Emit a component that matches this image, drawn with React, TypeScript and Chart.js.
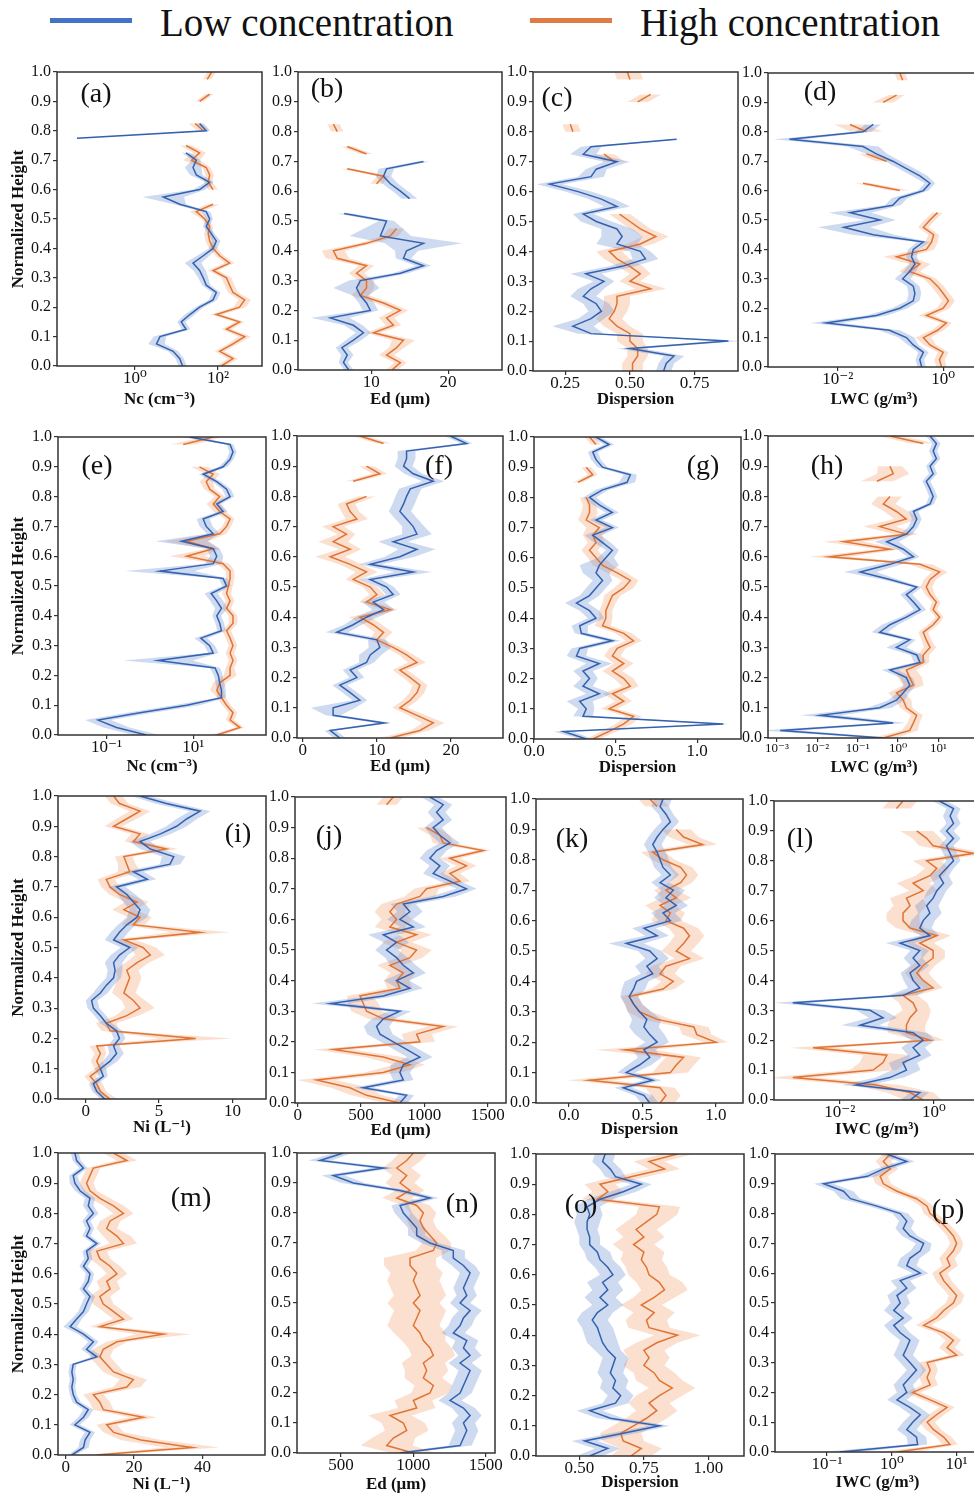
import React, { useEffect, useRef } from 'react';
import { Chart, registerables } from 'chart.js';

Chart.register(...registerables);

// ---------- shared axis data ----------
const HEIGHTS = [0, 0.025, 0.05, 0.075, 0.1, 0.125, 0.15, 0.175, 0.2, 0.225, 0.25, 0.275, 0.3, 0.325, 0.35, 0.375, 0.4, 0.425, 0.45, 0.475, 0.5, 0.525, 0.55, 0.575, 0.6, 0.625, 0.65, 0.675, 0.7, 0.725, 0.75, 0.775, 0.8, 0.825, 0.85, 0.875, 0.9, 0.925, 0.95, 0.975, 1.0];
const Y_TICKS = [0, 0.1, 0.2, 0.3, 0.4, 0.5, 0.6, 0.7, 0.8, 0.9, 1.0];

// ---------- (a) Nc, liquid, log ----------
const aLow = [14, 12, 8.3, 3.3, 4, 17, 13, 21, 36, 76, 91, 52, 44, 36, 25, 44, 76, 91, 69, 52, 63, 52, 12, 4.8, 36, 63, 30, 25, 30, 17, null, 0.04, 52, 36, null, null, null, null, null, null, null];
const aLowSd = [0.1, 0.1, 0.12, 0.2, 0.15, 0.1, 0.1, 0.12, 0.1, 0.1, 0.1, 0.1, 0.12, 0.15, 0.2, 0.15, 0.1, 0.1, 0.08, 0.08, 0.08, 0.1, 0.15, 0.5, 0.15, 0.1, 0.15, 0.2, 0.1, 0.1, 0, 0.05, 0.1, 0.1, 0, 0, 0, 0, 0, 0, 0];
const aHigh = [120, 230, 110, 230, 440, 160, 330, 91, 330, 440, 230, 190, 160, 76, 190, 110, 76, 63, 58, 63, 48, 30, 76, null, 76, 58, 63, 52, 23, 36, 17, null, 44, 28, null, null, 36, 63, null, 55, 70];
const aHighSd = [0.12, 0.12, 0.12, 0.12, 0.15, 0.12, 0.12, 0.15, 0.15, 0.15, 0.12, 0.12, 0.12, 0.12, 0.12, 0.1, 0.1, 0.1, 0.1, 0.08, 0.08, 0.15, 0.15, 0, 0.12, 0.1, 0.1, 0.1, 0.2, 0.15, 0.15, 0, 0.15, 0.15, 0, 0, 0.1, 0.1, 0, 0.1, 0.1];

// ---------- (b) Ed, liquid ----------
const bLow = [7.1, 6.4, 6.9, 6.2, 7.7, 9.0, 7.7, 4.7, 9.9, 9.4, 8.6, 8.1, 8.6, 13.8, 16.8, 14.2, 14.6, 16.8, 11.2, 11.6, 12.0, 6.5, null, 15, 13.8, 12.5, 11.6, 12.0, 16.8, null, null, null, null, null, null, null, null, null, null, null, null];
const bLowSd = [0.6, 0.6, 0.8, 0.8, 1, 1, 1.2, 2.5, 1, 1, 1, 3, 1.5, 1, 1, 1, 1.5, 5, 4, 2.5, 1, 1, 0, 1, 1, 1, 1, 1, 0.8, 0, 0, 0, 0, 0, 0, 0, 0, 0, 0, 0, 0];
const bHigh = [12.7, 13.8, 12.0, 13.3, 14.2, 10.3, 12.9, 12.0, 13.8, 11.6, 8.6, 9.4, 9.4, 8.1, 9.4, 5.6, 5.1, 9.4, 12.5, 13.3, null, null, null, null, null, 10.7, 11.6, 6.9, null, 9.4, 6.9, null, 5.6, 5.1, null, null, null, null, null, null, null];
const bHighSd = [0.8, 0.8, 1, 1, 1.5, 1, 1, 1, 1, 1, 1.2, 1, 1, 1, 1, 1.5, 1.5, 1, 1, 1, 0, 0, 0, 0, 0, 0.8, 0.8, 0.8, 0, 0.8, 0.8, 0, 0.8, 0.8, 0, 0, 0, 0, 0, 0, 0];

// ---------- (c) Dispersion, liquid ----------
const cLow = [0.63, 0.64, 0.67, 0.5, 0.88, 0.35, 0.28, 0.35, 0.39, 0.37, 0.32, 0.35, 0.40, 0.33, 0.47, 0.56, 0.54, 0.45, 0.47, 0.45, 0.37, 0.32, 0.45, 0.39, 0.30, 0.19, 0.35, 0.37, 0.45, 0.32, 0.35, 0.68, null, null, null, null, null, null, null, null, null];
const cLowSd = [0.03, 0.03, 0.04, 0.05, 0.05, 0.05, 0.08, 0.05, 0.05, 0.05, 0.05, 0.05, 0.04, 0.06, 0.05, 0.05, 0.04, 0.08, 0.08, 0.06, 0.06, 0.04, 0.05, 0.05, 0.05, 0.05, 0.05, 0.04, 0.05, 0.05, 0.04, 0.02, 0, 0, 0, 0, 0, 0, 0, 0, 0];
const cHigh = [0.51, 0.51, 0.53, 0.53, 0.5, 0.5, 0.45, 0.42, 0.44, 0.45, 0.45, 0.58, 0.5, 0.54, 0.5, 0.45, 0.42, 0.54, 0.6, 0.54, 0.5, 0.46, null, null, null, null, null, null, 0.44, 0.4, null, null, 0.28, 0.27, null, null, 0.53, 0.58, null, 0.5, 0.49];
const cHighSd = [0.04, 0.04, 0.04, 0.04, 0.05, 0.05, 0.05, 0.05, 0.05, 0.05, 0.05, 0.06, 0.04, 0.04, 0.05, 0.05, 0.05, 0.05, 0.05, 0.04, 0.04, 0.04, 0, 0, 0, 0, 0, 0, 0.04, 0.04, 0, 0, 0.03, 0.03, 0, 0, 0.04, 0.04, 0, 0.05, 0.05];

// ---------- (d) LWC, log ----------
const dLow = [0.39, 0.36, 0.42, 0.27, 0.2, 0.095, 0.006, 0.054, 0.15, 0.27, 0.29, 0.27, 0.17, 0.23, 0.29, 0.25, 0.27, 0.42, 0.047, 0.013, 0.063, 0.017, 0.11, 0.15, 0.42, 0.56, 0.36, 0.2, 0.11, 0.054, 0.03, 0.0012, 0.03, 0.047, null, null, null, null, null, null, null];
const dLowSd = [0.08, 0.08, 0.1, 0.1, 0.15, 0.2, 0.3, 0.2, 0.15, 0.12, 0.12, 0.12, 0.15, 0.12, 0.1, 0.1, 0.1, 0.12, 0.4, 0.5, 0.3, 0.4, 0.15, 0.15, 0.1, 0.1, 0.15, 0.15, 0.15, 0.2, 0.3, 0.3, 0.15, 0.15, 0, 0, 0, 0, 0, 0, 0];
const dHigh = [0.93, 0.85, 1.0, 0.56, 0.42, 0.78, 1.15, 0.48, 1.0, 1.26, 1.0, 0.78, 0.56, 0.23, 0.36, 0.13, 0.48, 0.6, 0.66, 0.42, 0.56, 0.78, null, null, 0.15, 0.03, null, null, 0.083, 0.035, null, null, 0.035, 0.017, null, null, 0.072, 0.13, null, 0.17, 0.15];
const dHighSd = [0.1, 0.1, 0.1, 0.12, 0.15, 0.12, 0.1, 0.15, 0.12, 0.12, 0.12, 0.12, 0.12, 0.2, 0.2, 0.25, 0.15, 0.12, 0.1, 0.1, 0.1, 0.1, 0, 0, 0.2, 0.15, 0, 0, 0.2, 0.15, 0, 0, 0.3, 0.3, 0, 0, 0.2, 0.15, 0, 0.1, 0.1];

// ---------- (e) Nc, mixed, log ----------
const eLow = [0.83, 0.17, 0.064, 0.59, 7.1, 45, 45, 41, 38, 32, 1.55, 29, 24, 15, 45, 41, 35, 45, 35, 26, 59, 49, 1.7, 29, 35, 29, 5.4, 29, 20, 17, 49, 35, 71, 59, 35, 17, 49, 71, 83, 71, 8.3];
const eLowSd = [0.3, 0.3, 0.3, 0.3, 0.3, 0.1, 0.1, 0.1, 0.1, 0.12, 0.8, 0.12, 0.12, 0.15, 0.1, 0.1, 0.1, 0.15, 0.15, 0.15, 0.1, 0.1, 0.8, 0.2, 0.15, 0.15, 0.6, 0.15, 0.15, 0.15, 0.1, 0.1, 0.1, 0.1, 0.1, 0.1, 0.1, 0.08, 0.08, 0.08, 0.2];
const eHigh = [35, 120, 71, 83, 59, 45, 35, 41, 71, 71, 83, 71, 83, 71, 59, 83, 83, 59, 71, 59, 65, 71, 71, 49, 7.1, 29, 7.1, 41, 59, 71, 41, 29, 41, 24, 20, 29, 14, null, null, 5.9, 29];
const eHighSd = [0.15, 0.1, 0.1, 0.1, 0.1, 0.1, 0.15, 0.15, 0.15, 0.1, 0.1, 0.1, 0.1, 0.1, 0.1, 0.1, 0.1, 0.1, 0.1, 0.1, 0.1, 0.1, 0.1, 0.15, 0.4, 0.15, 0.5, 0.15, 0.1, 0.1, 0.15, 0.15, 0.12, 0.12, 0.15, 0.15, 0.2, 0, 0, 0.3, 0.2];

// ---------- (f) Ed, mixed ----------
const fLow = [5.0, 3.7, 11, 4.1, 4.1, 7.7, 6.4, 5.0, 7.3, 6.4, 8.6, 9.1, 10.4, 10.0, 4.6, 6.8, 8.6, 10.9, 9.5, 12.2, 11.3, 9.1, 14.9, 9.1, 13.1, 15.4, 12.2, 15.4, 14.9, 14.0, 13.1, 13.6, 14.0, 14.5, 17.6, 14.9, 13.6, 14.0, 14.0, 22.1, 19.9];
const fLowSd = [0.8, 0.8, 1, 1, 3, 1, 1, 1, 1, 1, 1, 1.5, 1.5, 1.2, 1.5, 1.2, 1.5, 1.5, 1.5, 1, 1, 1.5, 2.5, 1.5, 2, 2.5, 2, 2, 1.5, 1.5, 1.5, 1.5, 1.5, 1.5, 1.5, 1.2, 1.2, 1.2, 1.2, 0.8, 0.8];
const fHigh = [11.8, 15.8, 17.6, 15.4, 13.1, 14.5, 15.4, 15.8, 14.5, 13.1, 15.4, 14.0, 12.2, 10.0, 10.9, 9.5, 7.7, 11.8, 8.6, 10.0, 9.1, 6.8, 8.6, 6.4, 3.7, 6.4, 4.1, 5.9, 4.1, 7.3, 6.4, 5.9, 8.6, null, 6.8, 10.4, 8.6, null, null, 10.9, 7.7];
const fHighSd = [1.5, 1.2, 1.5, 1.2, 1, 1, 1, 1, 1, 1, 1.2, 1, 1, 1, 1.2, 1.2, 1.5, 1, 1, 1, 1, 1, 1.5, 1.5, 2, 1.5, 2, 1.2, 1.5, 1.5, 1.2, 1.2, 1.2, 0, 1, 1, 1, 0, 0, 1, 1];

// ---------- (g) Dispersion, mixed ----------
const gLow = [0.32, 0.18, 1.16, 0.30, 0.32, 0.28, 0.40, 0.30, 0.34, 0.30, 0.40, 0.26, 0.28, 0.48, 0.29, 0.28, 0.38, 0.34, 0.26, 0.34, 0.38, 0.42, 0.38, 0.40, 0.44, 0.48, 0.42, 0.36, 0.48, 0.38, 0.48, 0.40, 0.34, 0.42, 0.57, 0.59, 0.42, 0.38, 0.36, 0.46, 0.38];
const gLowSd = [0.04, 0.06, 0.04, 0.06, 0.05, 0.08, 0.08, 0.06, 0.05, 0.06, 0.08, 0.06, 0.05, 0.05, 0.04, 0.05, 0.05, 0.06, 0.07, 0.06, 0.06, 0.06, 0.08, 0.12, 0.05, 0.04, 0.05, 0.05, 0.04, 0.04, 0.04, 0.04, 0.04, 0.04, 0.05, 0.04, 0.03, 0.03, 0.03, 0.03, 0.03];
const gHigh = [0.36, 0.46, 0.55, 0.61, 0.46, 0.55, 0.48, 0.59, 0.55, 0.48, 0.55, 0.48, 0.51, 0.61, 0.55, 0.42, 0.44, 0.44, 0.46, 0.48, 0.55, 0.59, 0.51, 0.42, 0.38, 0.34, 0.38, 0.36, 0.40, 0.32, 0.34, 0.34, 0.32, null, 0.27, 0.36, 0.32, null, null, 0.38, 0.34];
const gHighSd = [0.04, 0.05, 0.05, 0.05, 0.05, 0.05, 0.06, 0.05, 0.06, 0.06, 0.06, 0.05, 0.05, 0.05, 0.05, 0.05, 0.04, 0.04, 0.04, 0.05, 0.06, 0.05, 0.06, 0.06, 0.05, 0.05, 0.05, 0.06, 0.08, 0.05, 0.05, 0.04, 0.04, 0, 0.03, 0.03, 0.03, 0, 0, 0.03, 0.03];

// ---------- (h) LWC, mixed, log ----------
const hLow = [0.43, 0.0012, 0.76, 0.012, 0.35, 0.91, 1.35, 1.95, 1.6, 0.63, 3.5, 2.9, 0.91, 1.95, 0.35, 0.63, 1.6, 3.5, 2.4, 1.6, 2.9, 0.63, 0.115, 0.63, 2.4, 1.35, 0.52, 1.6, 2.4, 2.9, 2.4, 6.2, 7.4, 6.2, 5.0, 7.4, 6.2, 8.9, 7.4, 8.9, 6.2];
const hLowSd = [0.3, 0.5, 0.3, 0.5, 0.3, 0.2, 0.15, 0.15, 0.15, 0.2, 0.15, 0.15, 0.25, 0.15, 0.2, 0.2, 0.15, 0.15, 0.15, 0.15, 0.12, 0.2, 0.4, 0.3, 0.15, 0.15, 0.3, 0.15, 0.12, 0.12, 0.12, 0.1, 0.1, 0.1, 0.1, 0.1, 0.1, 0.1, 0.1, 0.1, 0.1];
const hHigh = [0.43, 1.95, 2.4, 2.9, 1.6, 1.35, 0.91, 2.4, 1.95, 1.6, 4.2, 4.2, 6.2, 5.0, 4.2, 7.4, 10.7, 7.4, 8.9, 6.2, 5.0, 6.2, 10.7, 3.5, 0.02, 0.63, 0.045, 1.6, 0.35, 1.6, 0.91, 0.43, 0.63, null, 0.3, 0.76, 0.63, null, null, 4.2, 0.63];
const hHighSd = [0.3, 0.2, 0.15, 0.15, 0.15, 0.2, 0.2, 0.25, 0.3, 0.25, 0.15, 0.15, 0.15, 0.12, 0.12, 0.12, 0.1, 0.1, 0.1, 0.12, 0.15, 0.15, 0.2, 0.3, 0.5, 0.3, 0.5, 0.3, 0.4, 0.3, 0.3, 0.3, 0.3, 0, 0.4, 0.4, 0.3, 0, 0, 0.3, 0.3];

// ---------- (i) Ni, mixed ----------
const iLow = [1.3, 0.75, 0.52, 1.2, 1.0, 1.66, 2.1, 1.9, 2.3, 2.1, 1.4, 1.0, 0.52, 0.4, 1.0, 1.4, 1.9, 2.0, 1.9, 2.3, 3.0, 1.9, 2.3, 2.8, 3.5, 3.7, 3.25, 2.8, 2.1, 4.2, 3.25, 5.75, 6.0, 4.4, 3.7, 5.1, 6.2, 6.9, 7.8, 5.5, 3.7];
const iLowSd = [0.3, 0.3, 0.3, 0.3, 0.4, 0.5, 0.5, 0.4, 0.4, 0.4, 0.4, 0.4, 0.4, 0.4, 0.5, 0.5, 0.5, 0.5, 0.6, 0.6, 0.6, 0.6, 0.6, 0.6, 0.7, 0.7, 0.7, 0.6, 0.6, 0.6, 0.7, 0.7, 0.8, 0.7, 0.7, 0.7, 0.7, 0.7, 0.7, 0.8, 0.6];
const iHigh = [1.66, 1.0, 0.75, 0.3, 1.0, 0.75, 1.0, 0.75, 7.5, 1.66, 1.4, 2.8, 3.7, 3.25, 2.6, 2.8, 3.0, 2.8, 3.5, 4.4, 3.9, 2.6, 7.8, 3.25, 3.7, 2.6, 3.5, 2.3, 1.66, 1.4, 3.0, 2.8, 2.6, 5.5, 3.25, 3.7, 1.9, 2.8, 3.7, 2.3, 1.9];
const iHighSd = [0.5, 0.4, 0.4, 0.4, 0.4, 0.4, 0.4, 0.5, 2.5, 0.6, 0.7, 0.8, 1.0, 0.8, 0.8, 0.8, 0.8, 0.8, 0.8, 1.0, 0.9, 0.8, 2.0, 0.8, 0.8, 0.8, 0.8, 0.7, 0.6, 0.6, 0.8, 0.6, 0.6, 0.8, 0.6, 0.6, 0.6, 0.7, 0.7, 0.6, 0.6];

// ---------- (j) Ed, ice ----------
const jLow = [807, 860, 518, 834, 807, 834, 965, 860, 755, 650, 623, 676, 807, 260, 676, 886, 781, 913, 834, 781, 702, 781, 676, 913, 807, 886, 834, 1149, 1333, 1202, 1070, 1123, 1044, 1097, 1202, 1123, 1070, 1149, 1097, 1149, 1044];
const jLowSd = [60, 60, 80, 80, 80, 100, 100, 100, 100, 100, 100, 90, 90, 150, 100, 100, 100, 100, 100, 90, 90, 100, 120, 100, 100, 100, 100, 100, 80, 80, 80, 80, 80, 80, 80, 70, 70, 70, 70, 70, 70];
const jHigh = [807, 544, 413, 150, 676, 886, 676, 281, 965, 939, 1149, 676, 544, 518, 492, 807, 781, 834, 728, 886, 939, 781, 939, 728, 781, 728, 781, 965, 1018, 1281, 1202, 1333, 1202, 1465, 1149, 1123, 1018, null, null, 702, 755];
const jHighSd = [120, 120, 150, 150, 150, 120, 150, 150, 120, 120, 120, 120, 120, 120, 100, 100, 100, 100, 100, 100, 120, 120, 120, 120, 120, 120, 120, 120, 100, 80, 80, 80, 80, 60, 80, 80, 80, 0, 0, 80, 80];

// ---------- (k) Dispersion, ice ----------
const kLow = [0.55, 0.51, 0.37, 0.57, 0.39, 0.48, 0.55, 0.51, 0.6, 0.55, 0.51, 0.53, 0.48, 0.44, 0.41, 0.44, 0.46, 0.57, 0.53, 0.6, 0.55, 0.39, 0.6, 0.51, 0.69, 0.64, 0.73, 0.66, 0.71, 0.62, 0.69, 0.64, 0.62, 0.6, 0.57, 0.6, 0.64, 0.69, 0.66, 0.62, 0.64];
const kLowSd = [0.06, 0.06, 0.06, 0.06, 0.06, 0.08, 0.08, 0.08, 0.08, 0.1, 0.1, 0.1, 0.08, 0.06, 0.06, 0.08, 0.08, 0.08, 0.08, 0.08, 0.08, 0.12, 0.08, 0.08, 0.08, 0.08, 0.08, 0.08, 0.08, 0.06, 0.06, 0.06, 0.06, 0.06, 0.06, 0.06, 0.06, 0.06, 0.05, 0.06, 0.06];
const kHigh = [0.62, 0.66, 0.62, 0.14, 0.69, 0.73, 0.78, 0.38, 1.0, 0.87, 0.85, 0.6, 0.48, 0.44, 0.41, 0.64, 0.71, 0.62, 0.66, 0.82, 0.73, 0.78, 0.82, 0.78, 0.66, 0.69, 0.62, 0.73, 0.66, 0.76, 0.8, 0.76, 0.64, 0.57, 0.91, 0.78, 0.73, null, null, 0.6, 0.55];
const kHighSd = [0.1, 0.1, 0.1, 0.15, 0.12, 0.12, 0.12, 0.2, 0.08, 0.1, 0.1, 0.1, 0.08, 0.06, 0.06, 0.08, 0.08, 0.1, 0.1, 0.1, 0.1, 0.1, 0.1, 0.1, 0.1, 0.1, 0.1, 0.1, 0.08, 0.08, 0.08, 0.08, 0.08, 0.08, 0.1, 0.1, 0.1, 0, 0, 0.08, 0.08];

// ---------- (l) IWC, log ----------
const lLow = [0.31, 0.5, 0.022, 0.115, 0.26, 0.22, 0.5, 0.36, 0.59, 0.36, 0.027, 0.083, 0.044, 0.001, 0.22, 0.5, 0.36, 0.31, 0.5, 0.36, 0.5, 0.19, 0.82, 0.5, 0.59, 0.82, 0.7, 0.96, 1.15, 1.6, 1.3, 1.85, 2.6, 2.2, 1.85, 2.6, 1.85, 2.6, 2.2, 2.6, 1.3];
const lLowSd = [0.2, 0.2, 0.3, 0.3, 0.3, 0.3, 0.25, 0.25, 0.25, 0.3, 0.4, 0.3, 0.3, 0.4, 0.3, 0.25, 0.2, 0.2, 0.2, 0.2, 0.2, 0.3, 0.2, 0.25, 0.25, 0.25, 0.25, 0.2, 0.2, 0.2, 0.2, 0.15, 0.15, 0.15, 0.15, 0.15, 0.15, 0.15, 0.15, 0.15, 0.15];
const lHigh = [0.59, 0.31, 0.06, 0.001, 0.051, 0.083, 0.1, 0.0027, 0.82, 0.26, 0.26, 0.31, 0.43, 0.36, 0.22, 0.96, 0.59, 0.43, 0.59, 0.96, 0.96, 0.5, 1.15, 0.31, 0.22, 0.22, 0.31, 0.26, 0.59, 0.36, 0.82, 1.15, 0.7, 6.9, 0.96, 0.7, 0.43, null, null, 0.16, 0.22];
const lHighSd = [0.4, 0.5, 0.5, 0.5, 0.5, 0.5, 0.5, 0.5, 0.3, 0.4, 0.4, 0.4, 0.3, 0.3, 0.3, 0.2, 0.25, 0.25, 0.25, 0.25, 0.25, 0.3, 0.3, 0.3, 0.35, 0.35, 0.35, 0.35, 0.3, 0.35, 0.3, 0.25, 0.3, 0.3, 0.3, 0.3, 0.35, 0, 0, 0.3, 0.3];

// ---------- (m) Ni, ice ----------
const mLow = [1.8, 5.2, 5.7, 7.1, 2.7, 5.2, 6.6, 3.2, 2.2, 1.8, 2.2, 1.8, 2.2, 9.1, 6.1, 8.1, 5.2, 1.3, 3.2, 5.2, 6.1, 7.1, 5.2, 6.6, 7.1, 5.2, 6.6, 6.1, 9.1, 6.1, 7.1, 6.1, 8.1, 6.6, 7.1, 4.2, 2.7, 2.2, 5.2, 3.2, 2.7];
const mLowSd = [1, 1.5, 1.5, 1.5, 1.5, 1.5, 1.5, 1.2, 1, 1, 1, 1, 1, 1.5, 1.5, 1.5, 1.5, 2, 1.5, 1.5, 1.5, 1.5, 1.2, 1.2, 1.2, 1.2, 1.2, 1.2, 1.2, 1.2, 1.2, 1.2, 1.5, 1.5, 1.5, 1.5, 1.5, 1.2, 1.2, 1.2, 1.2];
const mHigh = [9, 37, 22, 14, 12, 22.7, 11, 10, 8.1, 17.9, 19.8, 14, 12, 10, 11, 15, 28.6, 10, 16.9, 14, 11, 10, 13, 12, 15, 13, 10, 9.1, 16.9, 15, 12, 13, 16.9, 14, 10, 7.1, 6.1, 7.1, 8.1, 17.9, 14];
const mHighSd = [3, 8, 6, 3, 3, 4, 3, 3, 3, 4, 4, 3, 3, 3, 3, 3, 8, 3, 3, 3, 3, 3, 3, 3, 3, 3, 3, 3, 4, 4, 3, 3, 3, 3, 3, 2, 2, 2, 2, 3, 3];

// ---------- (n) Ed, ice ----------
const nLow = [908, 1323, 1346, 1369, 1346, 1392, 1346, 1253, 1323, 1346, 1369, 1392, 1323, 1392, 1346, 1369, 1276, 1323, 1346, 1392, 1323, 1369, 1346, 1369, 1392, 1346, 1276, 1276, 1115, 1023, 1023, 977, 931, 908, 1115, 908, 585, 447, 793, 355, 516];
const nLowSd = [60, 80, 80, 80, 80, 80, 80, 80, 80, 80, 80, 80, 80, 80, 80, 80, 80, 80, 80, 80, 70, 70, 70, 70, 70, 80, 80, 80, 60, 60, 60, 60, 60, 60, 60, 60, 80, 80, 80, 80, 60];
const nHigh = [1000, 816, 862, 954, 931, 839, 1023, 1000, 1115, 1138, 1069, 1092, 1069, 1138, 1115, 1069, 1046, 1000, 1023, 1046, 1000, 1046, 1023, 1000, 1023, 977, 977, 1138, 1161, 1115, 1069, 1046, 1069, 1023, 885, 977, 908, 954, 885, 954, 1000];
const nHighSd = [150, 180, 150, 150, 150, 150, 130, 130, 130, 130, 130, 150, 150, 150, 150, 150, 180, 180, 180, 180, 180, 180, 180, 180, 180, 180, 180, 120, 100, 100, 90, 90, 90, 90, 100, 100, 100, 100, 100, 100, 100];

// ---------- (o) Dispersion, ice ----------
const oLow = [0.54, 0.61, 0.52, 0.67, 0.81, 0.62, 0.54, 0.64, 0.66, 0.63, 0.64, 0.62, 0.63, 0.64, 0.61, 0.59, 0.58, 0.57, 0.55, 0.57, 0.61, 0.58, 0.61, 0.59, 0.63, 0.61, 0.58, 0.57, 0.54, 0.54, 0.53, 0.53, 0.54, 0.53, 0.58, 0.67, 0.74, 0.64, 0.62, 0.59, 0.6];
const oLowSd = [0.05, 0.05, 0.05, 0.05, 0.04, 0.05, 0.05, 0.05, 0.05, 0.05, 0.05, 0.05, 0.05, 0.05, 0.05, 0.06, 0.06, 0.06, 0.06, 0.06, 0.06, 0.06, 0.06, 0.06, 0.05, 0.05, 0.05, 0.05, 0.04, 0.04, 0.04, 0.05, 0.05, 0.05, 0.05, 0.05, 0.04, 0.04, 0.04, 0.04, 0.04];
const oHigh = [0.7, 0.74, 0.67, 0.66, 0.71, 0.76, 0.8, 0.77, 0.81, 0.86, 0.81, 0.79, 0.75, 0.77, 0.75, 0.8, 0.88, 0.77, 0.76, 0.79, 0.74, 0.79, 0.83, 0.81, 0.77, 0.76, 0.74, 0.75, 0.71, 0.75, 0.72, 0.76, 0.8, 0.81, 0.57, 0.61, 0.58, 0.7, 0.83, 0.77, 0.88];
const oHighSd = [0.08, 0.08, 0.08, 0.08, 0.08, 0.08, 0.08, 0.08, 0.09, 0.09, 0.09, 0.08, 0.08, 0.08, 0.08, 0.08, 0.09, 0.08, 0.08, 0.08, 0.08, 0.08, 0.09, 0.09, 0.08, 0.08, 0.08, 0.08, 0.08, 0.08, 0.08, 0.08, 0.08, 0.08, 0.06, 0.06, 0.06, 0.06, 0.06, 0.06, 0.06];

// ---------- (p) IWC, log ----------
const pLow = [0.16, 2.5, 2.4, 1.7, 2.1, 2.75, 1.9, 1.2, 1.7, 1.5, 1.9, 2.4, 1.9, 1.5, 1.7, 1.9, 1.35, 1.07, 1.5, 1.07, 1.35, 1.2, 1.7, 1.35, 2.75, 1.7, 1.9, 2.75, 3.1, 1.9, 1.5, 1.7, 1.35, 0.59, 0.23, 0.18, 0.089, 0.42, 0.74, 1.7, 0.83];
const pLowSd = [0.3, 0.15, 0.15, 0.15, 0.15, 0.15, 0.15, 0.15, 0.15, 0.15, 0.15, 0.15, 0.15, 0.15, 0.15, 0.15, 0.15, 0.15, 0.15, 0.15, 0.15, 0.15, 0.15, 0.15, 0.12, 0.15, 0.15, 0.15, 0.12, 0.12, 0.12, 0.12, 0.12, 0.12, 0.15, 0.15, 0.15, 0.15, 0.12, 0.12, 0.12];
const pHigh = [1.2, 7.9, 6.3, 4.4, 3.5, 4.9, 7.1, 3.9, 2.1, 3.9, 3.5, 3.9, 3.5, 10, 7.1, 8.9, 6.3, 3.1, 4.9, 6.3, 8.9, 10, 7.9, 6.3, 5.5, 7.9, 7.1, 8.9, 10, 8.9, 7.1, 5.5, 3.9, 3.5, 2.4, 1.2, 0.74, 0.66, 0.95, 0.74, 0.95];
const pHighSd = [0.3, 0.12, 0.12, 0.12, 0.12, 0.12, 0.12, 0.12, 0.12, 0.12, 0.12, 0.12, 0.12, 0.12, 0.12, 0.12, 0.12, 0.12, 0.12, 0.12, 0.12, 0.12, 0.12, 0.12, 0.12, 0.12, 0.12, 0.12, 0.1, 0.1, 0.1, 0.1, 0.1, 0.1, 0.12, 0.12, 0.12, 0.12, 0.12, 0.12, 0.12];

// ---------- styling ----------
const FONT = "'Liberation Serif', 'Times New Roman', 'DejaVu Serif', serif";
const TEXT = '#111';
const LINE_LOW = 'rgb(52,98,176)';
const LINE_HIGH = 'rgb(224,116,52)';
const BAND_LOW = 'rgba(92,132,205,0.30)';
const BAND_HIGH = 'rgba(242,152,100,0.30)';
const PT = 14;
const PR = 14;
const XH = 45;

type Panel = {
  letter: string;
  box: [number, number, number, number];
  log: boolean;
  min: number;
  max: number;
  ticks: number[];
  dec: number;
  title: string;
  low: (number | null)[];
  lowSd: number[];
  high: (number | null)[];
  highSd: number[];
  lab: [number, number];
  tOff: number;
  first: boolean;
  tickSize?: number;
};

const PANELS: Panel[] = [
  { letter: '(a)', box: [57, 262, 72, 366], log: true, min: 0.0132, max: 1148, ticks: [1, 100], dec: 0, title: 'Nc (cm⁻³)', low: aLow, lowSd: aLowSd, high: aHigh, highSd: aHighSd, lab: [39, 23], tOff: 34, first: true },
  { letter: '(b)', box: [298, 502, 72, 370], log: false, min: 0.5, max: 27, ticks: [10, 20], dec: 0, title: 'Ed (μm)', low: bLow, lowSd: bLowSd, high: bHigh, highSd: bHighSd, lab: [29, 18], tOff: 30, first: false },
  { letter: '(c)', box: [533, 738, 72, 371], log: false, min: 0.126, max: 0.917, ticks: [0.25, 0.5, 0.75], dec: 2, title: 'Dispersion', low: cLow, lowSd: cLowSd, high: cHigh, highSd: cHighSd, lab: [24, 27], tOff: 29, first: false },
  { letter: '(d)', box: [768, 980, 73, 367], log: true, min: 0.00047, max: 5.0, ticks: [0.01, 1], dec: 0, title: 'LWC (g/m³)', low: dLow, lowSd: dLowSd, high: dHigh, highSd: dHighSd, lab: [52, 20], tOff: 33, first: false },
  { letter: '(e)', box: [58, 266, 437, 735], log: true, min: 0.0076, max: 479, ticks: [0.1, 10], dec: 0, title: 'Nc (cm⁻³)', low: eLow, lowSd: eLowSd, high: eHigh, highSd: eHighSd, lab: [39, 30], tOff: 32, first: true },
  { letter: '(f)', box: [297, 503, 436, 738], log: false, min: -0.77, max: 27, ticks: [0, 10, 20], dec: 0, title: 'Ed (μm)', low: fLow, lowSd: fLowSd, high: fHigh, highSd: fHighSd, lab: [142, 31], tOff: 29, first: false },
  { letter: '(g)', box: [534, 741, 437, 739], log: false, min: 0, max: 1.268, ticks: [0, 0.5, 1.0], dec: 1, title: 'Dispersion', low: gLow, lowSd: gLowSd, high: gHigh, highSd: gHighSd, lab: [169, 30], tOff: 29, first: false },
  { letter: '(h)', box: [768, 980, 436, 738], log: true, min: 0.00062, max: 107, ticks: [0.001, 0.01, 0.1, 1, 10], dec: 0, title: 'LWC (g/m³)', low: hLow, lowSd: hLowSd, high: hHigh, highSd: hHighSd, lab: [59, 31], tOff: 30, first: false, tickSize: 13 },
  { letter: '(i)', box: [58, 266, 796, 1099], log: false, min: -1.89, max: 12.29, ticks: [0, 5, 10], dec: 0, title: 'Ni (L⁻¹)', low: iLow, lowSd: iLowSd, high: iHigh, highSd: iHighSd, lab: [180, 39], tOff: 29, first: true },
  { letter: '(j)', box: [295, 506, 797, 1103], log: false, min: -21, max: 1645, ticks: [0, 500, 1000, 1500], dec: 0, title: 'Ed (μm)', low: jLow, lowSd: jLowSd, high: jHigh, highSd: jHighSd, lab: [34, 40], tOff: 28, first: false },
  { letter: '(k)', box: [536, 743, 799, 1103], log: false, min: -0.224, max: 1.184, ticks: [0, 0.5, 1.0], dec: 1, title: 'Dispersion', low: kLow, lowSd: kLowSd, high: kHigh, highSd: kHighSd, lab: [36, 41], tOff: 27, first: false },
  { letter: '(l)', box: [774, 980, 801, 1100], log: true, min: 0.0004, max: 9.5, ticks: [0.01, 1], dec: 0, title: 'IWC (g/m³)', low: lLow, lowSd: lLowSd, high: lHigh, highSd: lHighSd, lab: [26, 39], tOff: 30, first: false },
  { letter: '(m)', box: [58, 265, 1153, 1455], log: false, min: -2.25, max: 58.3, ticks: [0, 20, 40], dec: 0, title: 'Ni (L⁻¹)', low: mLow, lowSd: mLowSd, high: mHigh, highSd: mHighSd, lab: [133, 46], tOff: 30, first: true },
  { letter: '(n)', box: [297, 495, 1153, 1453], log: false, min: 196, max: 1564, ticks: [500, 1000, 1500], dec: 0, title: 'Ed (μm)', low: nLow, lowSd: nLowSd, high: nHigh, highSd: nHighSd, lab: [165, 52], tOff: 32, first: false },
  { letter: '(o)', box: [536, 744, 1154, 1456], log: false, min: 0.332, max: 1.138, ticks: [0.5, 0.75, 1.0], dec: 2, title: 'Dispersion', low: oLow, lowSd: oLowSd, high: oHigh, highSd: oHighSd, lab: [45, 52], tOff: 27, first: false },
  { letter: '(p)', box: [775, 980, 1154, 1452], log: true, min: 0.0158, max: 22.9, ticks: [0.1, 1, 10], dec: 0, title: 'IWC (g/m³)', low: pLow, lowSd: pLowSd, high: pHigh, highSd: pHighSd, lab: [173, 57], tOff: 31, first: false },
];

const SUP: Record<string, string> = { '-': '⁻', '0': '⁰', '1': '¹', '2': '²', '3': '³', '4': '⁴', '5': '⁵' };
function logLabel(v: number) {
  const e = Math.round(Math.log10(v));
  return '10' + String(e).split('').map((c) => SUP[c]).join('');
}

function lineData(vals: (number | null)[]) {
  return HEIGHTS.map((h, i) => ({ x: vals[i], y: h }));
}

function bandData(vals: (number | null)[], sd: number[], log: boolean) {
  const out: { x: number | null; y: number | null }[] = [];
  let run: number[] = [];
  const flush = () => {
    if (run.length > 1) {
      run.forEach((i) => {
        const v = vals[i] as number;
        out.push({ x: log ? v * Math.pow(10, sd[i]) : v + sd[i], y: HEIGHTS[i] });
      });
      run.slice().reverse().forEach((i) => {
        const v = vals[i] as number;
        out.push({ x: log ? v / Math.pow(10, sd[i]) : v - sd[i], y: HEIGHTS[i] });
      });
      out.push({ x: null, y: null });
    }
    run = [];
  };
  vals.forEach((v, i) => {
    if (v === null) flush();
    else run.push(i);
  });
  flush();
  return out;
}

const framePlugin = {
  id: 'frameAndLetter',
  afterDraw(chart: any) {
    const { ctx, chartArea } = chart;
    const { left, top, right, bottom } = chartArea;
    const o = chart.options.plugins.frameAndLetter;
    ctx.save();
    ctx.strokeStyle = '#333';
    ctx.lineWidth = 1.5;
    ctx.strokeRect(left, top, right - left, bottom - top);
    ctx.fillStyle = TEXT;
    ctx.font = `28px ${FONT}`;
    ctx.textAlign = 'center';
    ctx.textBaseline = 'middle';
    ctx.fillText(o.letter, left + o.lab[0], top + o.lab[1]);
    ctx.restore();
  },
};

function PanelChart({ p }: { p: Panel }) {
  const ref = useRef<HTMLCanvasElement>(null);
  const [L, R, T, B] = p.box;
  const yw = p.first ? L : 34;
  const width = yw + (R - L) + PR;
  const height = PT + (B - T) + XH;

  useEffect(() => {
    if (!ref.current) return;
    const xTitleFont = { family: FONT, size: 17, weight: 'bold' as const };
    const chart = new Chart(ref.current, {
      type: 'line',
      data: {
        datasets: [
          { data: lineData(p.low), borderColor: LINE_LOW, borderWidth: 1.5, pointRadius: 0, fill: false, tension: 0, spanGaps: false },
          { data: lineData(p.high), borderColor: LINE_HIGH, borderWidth: 1.5, pointRadius: 0, fill: false, tension: 0, spanGaps: false },
          { data: bandData(p.low, p.lowSd, p.log), borderColor: 'transparent', borderWidth: 0, backgroundColor: BAND_LOW, pointRadius: 0, fill: 'shape', tension: 0, spanGaps: false },
          { data: bandData(p.high, p.highSd, p.log), borderColor: 'transparent', borderWidth: 0, backgroundColor: BAND_HIGH, pointRadius: 0, fill: 'shape', tension: 0, spanGaps: false },
        ] as any,
      },
      options: {
        animation: false,
        responsive: false,
        devicePixelRatio: 1,
        events: [],
        layout: { padding: { left: 0, top: PT, right: PR, bottom: 0 } },
        plugins: {
          legend: { display: false },
          tooltip: { enabled: false },
          filler: { drawTime: 'beforeDatasetsDraw', propagate: false },
          frameAndLetter: { letter: p.letter, lab: p.lab },
        } as any,
        scales: {
          x: {
            type: p.log ? 'logarithmic' : 'linear',
            position: 'bottom',
            min: p.min,
            max: p.max,
            afterBuildTicks: (s: any) => {
              s.ticks = p.ticks.map((v) => ({ value: v }));
            },
            afterFit: (s: any) => {
              s.height = XH;
            },
            ticks: {
              autoSkip: false,
              maxRotation: 0,
              padding: 0,
              color: TEXT,
              font: { family: FONT, size: p.tickSize || 17, lineHeight: 1 },
              callback: (v: any) => (p.log ? logLabel(Number(v)) : Number(v).toFixed(p.dec)),
            },
            grid: { display: true, drawOnChartArea: false, drawTicks: true, tickLength: 4, color: '#333', lineWidth: 1.2 },
            border: { display: false },
            title: {
              display: true,
              text: p.title,
              color: TEXT,
              font: xTitleFont,
              padding: { top: 0, bottom: XH - 10.2 - p.tOff },
            },
          },
          y: {
            type: 'linear',
            position: 'left',
            min: 0,
            max: 1,
            afterBuildTicks: (s: any) => {
              s.ticks = Y_TICKS.map((v) => ({ value: v }));
            },
            afterFit: (s: any) => {
              s.width = yw;
            },
            ticks: {
              autoSkip: false,
              padding: 2,
              color: TEXT,
              font: { family: FONT, size: 16 },
              callback: (v: any) => Number(v).toFixed(1),
            },
            grid: { display: true, drawOnChartArea: false, drawTicks: true, tickLength: 4, color: '#333', lineWidth: 1.2 },
            border: { display: false },
            title: {
              display: p.first,
              text: 'Normalized Height',
              color: TEXT,
              font: { family: FONT, size: 17, weight: 'bold' },
              padding: { top: 8.8, bottom: 0 },
            },
          },
        },
      } as any,
      plugins: [framePlugin],
    });
    return () => chart.destroy();
  }, []);

  return (
    <canvas
      ref={ref}
      width={width}
      height={height}
      style={{ position: 'absolute', left: L - yw, top: T - PT, width, height }}
    />
  );
}

export default function App() {
  const legendText: React.CSSProperties = {
    position: 'absolute',
    top: 1,
    fontFamily: FONT,
    fontSize: 39,
    lineHeight: '44px',
    color: TEXT,
    whiteSpace: 'nowrap',
  };
  return (
    <div style={{ position: 'absolute', left: 0, top: 0, width: 974, height: 1495, overflow: 'hidden', background: '#fff' }}>
      <div style={{ position: 'absolute', left: 50, top: 18, width: 82, height: 5, background: '#4472C4' }} />
      <div style={{ ...legendText, left: 160 }}>Low concentration</div>
      <div style={{ position: 'absolute', left: 530, top: 18, width: 82, height: 5, background: '#E07B45' }} />
      <div style={{ ...legendText, left: 640 }}>High concentration</div>
      {PANELS.map((p) => (
        <PanelChart key={p.letter} p={p} />
      ))}
    </div>
  );
}
